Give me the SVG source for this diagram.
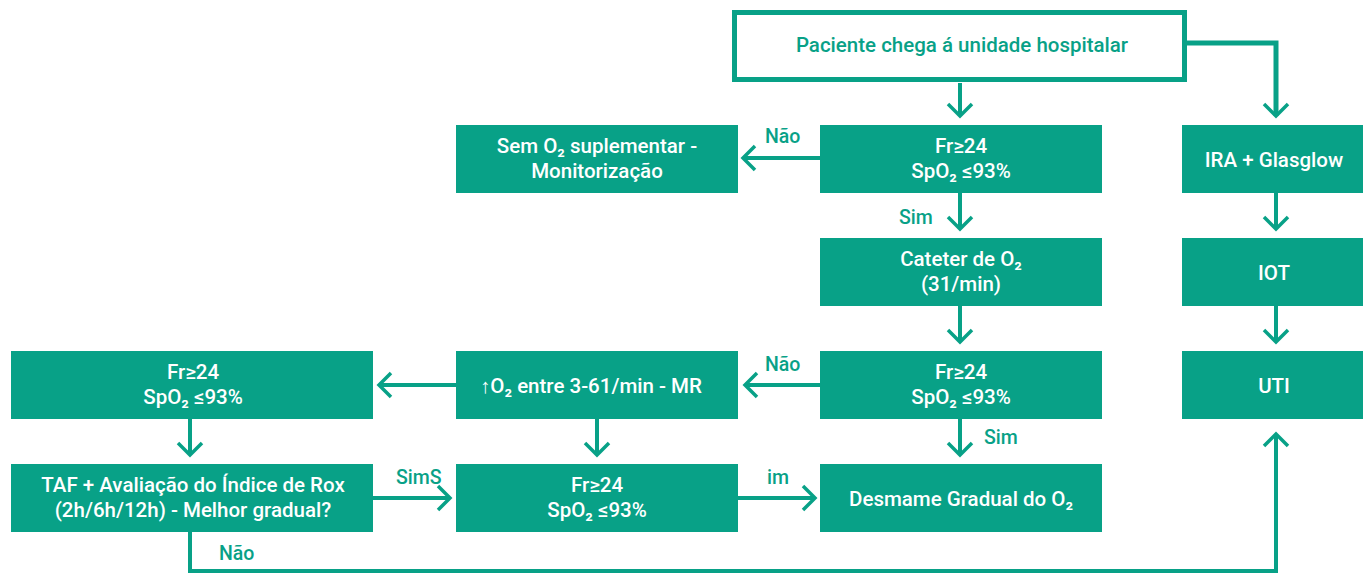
<svg xmlns="http://www.w3.org/2000/svg" width="1363" height="573" viewBox="0 0 1363 573">
<style>
.box{fill:#08A187;}
.t{font-family:Roboto,"Liberation Sans",sans-serif;font-size:20.5px;font-weight:500;fill:#ffffff;text-anchor:middle;}
.g{font-family:Roboto,"Liberation Sans",sans-serif;font-size:19.5px;font-weight:500;fill:#08A187;}
.c{fill:none;stroke:#08A187;stroke-width:4;}
</style>
<defs>
<marker id="arr" markerUnits="userSpaceOnUse" viewBox="0 0 16 28" refX="14" refY="14" markerWidth="16" markerHeight="28" orient="auto" overflow="visible">
<path d="M2,2 L14,14 L2,26" fill="none" stroke="#08A187" stroke-width="3.5"/>
</marker>
</defs>
<g id="connectors">
<path class="c" d="M960,83 V116" marker-end="url(#arr)"/>
<path class="c" style="stroke-width:5" d="M1187,43 H1276 V116" marker-end="url(#arr)"/>
<path class="c" d="M820,158 H743" marker-end="url(#arr)"/>
<path class="c" d="M960,193 V229" marker-end="url(#arr)"/>
<path class="c" d="M960,306 V342" marker-end="url(#arr)"/>
<path class="c" d="M820,385 H745" marker-end="url(#arr)"/>
<path class="c" d="M456,385 H379" marker-end="url(#arr)"/>
<path class="c" d="M190,419 V455" marker-end="url(#arr)"/>
<path class="c" d="M597,419 V455" marker-end="url(#arr)"/>
<path class="c" d="M960,419 V455" marker-end="url(#arr)"/>
<path class="c" d="M373,498 H450" marker-end="url(#arr)"/>
<path class="c" d="M738,498 H815" marker-end="url(#arr)"/>
<path class="c" d="M1276,193 V229" marker-end="url(#arr)"/>
<path class="c" d="M1276,306 V342" marker-end="url(#arr)"/>
<path class="c" d="M190,532 V571 H1276 V434" marker-end="url(#arr)"/>
<text class="g" x="765" y="143">Não</text>
<text class="g" x="899" y="224">Sim</text>
<text class="g" x="765" y="371">Não</text>
<text class="g" x="984" y="444">Sim</text>
<text class="g" x="396" y="484">SimS</text>
<text class="g" x="767" y="484">im</text>
<text class="g" x="219" y="560">Não</text>
</g>
<g id="n-start">
<rect x="734.5" y="12.5" width="450" height="67" fill="#fff" stroke="#08A187" stroke-width="5"/>
<text class="t" style="fill:#08A187" x="962" y="52">Paciente chega á unidade hospitalar</text>
</g>
<g id="n-sem">
<rect class="box" x="456" y="125" width="282" height="68"/>
<text class="t" x="597" y="153">Sem O₂ suplementar -</text>
<text class="t" x="597" y="178">Monitorização</text>
</g>
<g id="n-fr1">
<rect class="box" x="820" y="125" width="282" height="68"/>
<text class="t" x="961" y="153">Fr≥24</text>
<text class="t" x="961" y="178">SpO₂ ≤93%</text>
</g>
<g id="n-ira">
<rect class="box" x="1182" y="125" width="181" height="68"/>
<text class="t" x="1274" y="167">IRA + Glasglow</text>
</g>
<g id="n-cateter">
<rect class="box" x="820" y="238" width="282" height="68"/>
<text class="t" x="961" y="266">Cateter de O₂</text>
<text class="t" x="961" y="291">(31/min)</text>
</g>
<g id="n-iot">
<rect class="box" x="1182" y="238" width="181" height="68"/>
<text class="t" x="1274" y="280">IOT</text>
</g>
<g id="n-fr-left">
<rect class="box" x="11" y="351" width="362" height="68"/>
<text class="t" x="193" y="379">Fr≥24</text>
<text class="t" x="193" y="404">SpO₂ ≤93%</text>
</g>
<g id="n-o2">
<rect class="box" x="456" y="351" width="282" height="68"/>
<text class="t" x="591" y="393">↑O₂ entre 3-61/min - MR</text>
</g>
<g id="n-fr2">
<rect class="box" x="820" y="351" width="282" height="68"/>
<text class="t" x="961" y="379">Fr≥24</text>
<text class="t" x="961" y="404">SpO₂ ≤93%</text>
</g>
<g id="n-uti">
<rect class="box" x="1182" y="351" width="181" height="68"/>
<text class="t" x="1274" y="393">UTI</text>
</g>
<g id="n-taf">
<rect class="box" x="11" y="464" width="362" height="68"/>
<text class="t" x="193" y="492">TAF + Avaliação do Índice de Rox</text>
<text class="t" x="193" y="517">(2h/6h/12h) - Melhor gradual?</text>
</g>
<g id="n-fr3">
<rect class="box" x="456" y="464" width="282" height="68"/>
<text class="t" x="597" y="492">Fr≥24</text>
<text class="t" x="597" y="517">SpO₂ ≤93%</text>
</g>
<g id="n-desmame">
<rect class="box" x="820" y="464" width="282" height="68"/>
<text class="t" x="961" y="506">Desmame Gradual do O₂</text>
</g>
</svg>
